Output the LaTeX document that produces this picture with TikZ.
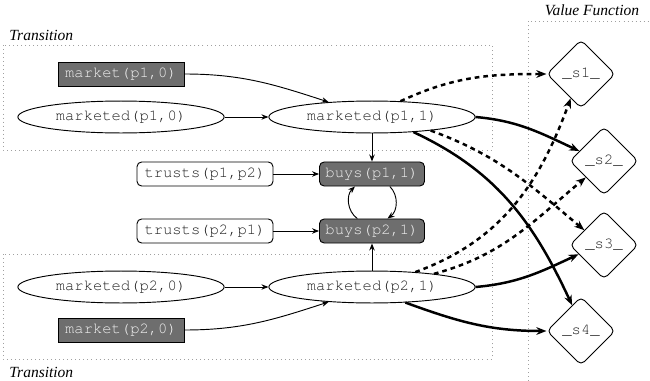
\documentclass[tikz,border=0pt]{standalone}
\usepackage{fontspec}
\setmainfont{Liberation Serif}
\setmonofont{TeX Gyre Cursor}
\usetikzlibrary{arrows.meta,shapes.geometric}
\definecolor{obs}{HTML}{6E6E6E}
\definecolor{obstxt}{HTML}{F0F0F0}
\definecolor{frame}{HTML}{A0A0A0}
\definecolor{txt}{HTML}{222222}
\tikzset{
  fluent/.style={ellipse, draw, line width=0.6pt, minimum width=133pt, minimum height=20.6pt, inner sep=0pt, font=\ttfamily, text=txt},
  act/.style={rectangle, draw, line width=0.6pt, fill=obs, text=obstxt, minimum width=81.3pt, minimum height=15.5pt, inner sep=0pt, font=\ttfamily},
  rel/.style={rectangle, rounded corners=3pt, draw, line width=0.6pt, minimum width=87.7pt, minimum height=15.5pt, inner sep=0pt, font=\ttfamily, text=txt},
  buy/.style={rectangle, rounded corners=3pt, draw, line width=0.6pt, fill=obs, text=obstxt, minimum width=67.7pt, minimum height=15.5pt, inner sep=0pt, font=\ttfamily},
  val/.style={diamond, rounded corners=3pt, draw, line width=0.6pt, minimum size=44pt, inner sep=0pt, font=\ttfamily, text=txt},
  box/.style={draw=frame, dotted, line width=0.6pt},
  lbl/.style={font=\itshape, anchor=west},
  e/.style={draw, line width=0.6pt, -{Stealth[length=4.5pt,width=3.5pt]}},
  w/.style={draw, line width=1.6pt, -{Stealth[length=6.5pt,width=5pt]}},
  wd/.style={w, dash pattern=on 3pt off 2.6pt},
}

\begin{document}
\begin{tikzpicture}[x=0.645pt, y=0.645pt]
\useasboundingbox (0,0) rectangle (650,-381);

% frames
\draw[box] (3,-45) rectangle (492,-150);
\draw[box] (3,-254) rectangle (492,-359);
\draw[box] (528,-381) -- (528,-21) -- (650,-21);
\node[lbl] (tr1) at (4,-35) {Transition};
\node[lbl] (tr2) at (4,-372) {Transition};
\node[font=\itshape] (vf) at (592,-10) {Value Function};

% nodes
\node[act] (mk1) at (121,-74) {market(p1,0)};
\node[fluent] (m10) at (121,-117) {marketed(p1,0)};
\node[fluent] (m11) at (372,-117) {marketed(p1,1)};
\node[rel] (t12) at (205,-174) {trusts(p1,p2)};
\node[buy] (b1) at (372,-174) {buys(p1,1)};
\node[rel] (t21) at (205,-231) {trusts(p2,p1)};
\node[buy] (b2) at (372,-231) {buys(p2,1)};
\node[fluent] (m20) at (121,-287) {marketed(p2,0)};
\node[fluent] (m21) at (372,-287) {marketed(p2,1)};
\node[act] (mk2) at (121,-330) {market(p2,0)};
\node[val] (s1) at (581,-74) {\_s1\_};
\node[val] (s2) at (604,-161) {\_s2\_};
\node[val] (s3) at (604,-245) {\_s3\_};
\node[val] (s4) at (581,-331) {\_s4\_};

% transition
\draw[e] (mk1.east) to[out=0, in=162] (m11.161);
\draw[e] (m10) -- (m11);
\draw[e] (m11) -- (b1);
\draw[e] (t12) -- (b1);
\draw[e] (t21) -- (b2);
\draw[e] (m21) -- (b2);
\draw[e] (m20) -- (m21);
\draw[e] (mk2.east) to[out=0, in=198] (m21.199);
\draw[e] ([xshift=-9.5pt]b2.north) to[bend left=50] ([xshift=-11pt]b1.south);
\draw[e] ([xshift=11.5pt]b1.south) to[bend left=50] ([xshift=10pt]b2.north);

% value function
\draw[wd] (m11.29) to[out=25, in=180] (s1.west);
\draw[w] (m11.east) to[out=-5, in=155] (s2.158);
\draw[wd] (m11.-13) to[out=-20, in=140] (s3.143);
\draw[w] (m11.-20) to[out=-25, in=115] (s4.109);
\draw[wd] (m21.19) to[out=20, in=-110] (s1.247);
\draw[wd] (m21.12) to[out=15, in=-140] (s2.222);
\draw[w] (m21.east) to[out=5, in=-155] (s3.200);
\draw[w] (m21.-25) to[out=-20, in=180] (s4.west);
\end{tikzpicture}
\end{document}
